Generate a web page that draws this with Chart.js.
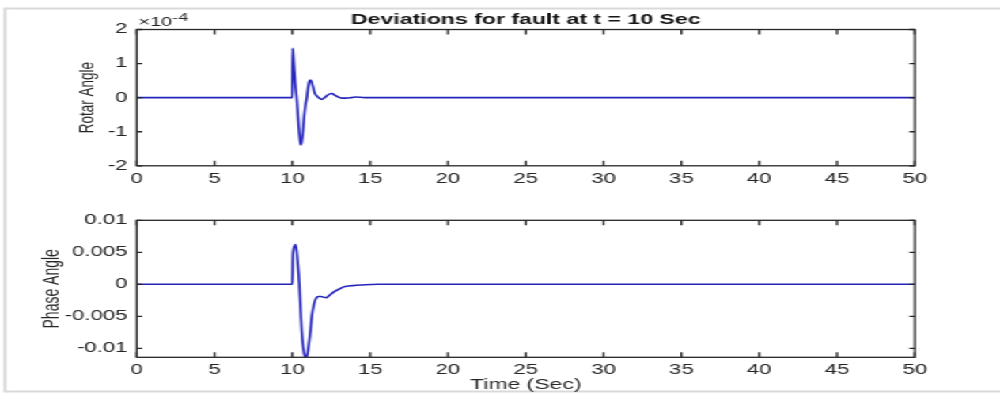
<!DOCTYPE html>
<html><head><meta charset="utf-8">
<script src="https://cdn.jsdelivr.net/npm/chart.js@4.4.0/dist/chart.umd.min.js"></script>
<style>
html,body{margin:0;padding:0;background:#fff;overflow:hidden;}
#wrap{position:absolute;left:0;top:0;width:632px;height:395px;transform:scaleX(1.5823);transform-origin:0 0;}
#wrap canvas{position:absolute;left:0;top:0;}
</style></head><body>
<div id="wrap"><canvas id="c1" width="632" height="395"></canvas><canvas id="c2" width="632" height="395"></canvas></div>
<script>
// ---- data ----
const chartTitle = 'Deviations for fault at t = 10 Sec';
const xTicks = [0, 5, 10, 15, 20, 25, 30, 35, 40, 45, 50];

// Rotor angle deviation, values in units of 10^-4
const rotorTime = [0, 10.0, 10.02, 10.05, 10.1, 10.2, 10.28, 10.35, 10.42, 10.48, 10.54, 10.6, 10.68, 10.75, 10.85, 10.93, 11.0, 11.07, 11.14, 11.22, 11.32, 11.45, 11.6, 11.75, 11.89, 12.05, 12.25, 12.53, 12.75, 13.0, 13.2, 13.45, 13.8, 14.1, 14.4, 14.8, 50];
const rotorAngleE4 = [0, 0, 1.45, 1.35, 1.0, 0.35, 0, -0.45, -0.9, -1.2, -1.39, -1.3, -1.0, -0.6, -0.2, 0.0, 0.25, 0.45, 0.52, 0.48, 0.33, 0.12, 0.04, -0.02, -0.05, -0.01, 0.07, 0.12, 0.07, 0.01, -0.015, -0.015, 0.0, 0.02, 0.01, 0, 0];
const rotorTicks = [-2, -1, 0, 1, 2];

// Phase angle deviation
const phaseTime = [0, 10.0, 10.03, 10.08, 10.14, 10.22, 10.34, 10.45, 10.53, 10.6, 10.7, 10.8, 10.88, 10.96, 11.05, 11.15, 11.25, 11.4, 11.55, 11.67, 11.85, 12.0, 12.17, 12.35, 12.6, 12.96, 13.3, 13.9, 14.5, 15.5, 50];
const phaseAngle = [0, 0, 0.004, 0.0055, 0.006, 0.0062, 0.0036, 0, -0.004, -0.0073, -0.0099, -0.0112, -0.0114, -0.011, -0.0095, -0.0075, -0.005, -0.003, -0.0021, -0.0019, -0.0019, -0.002, -0.0021, -0.0018, -0.0013, -0.0008, -0.0004, -0.0002, -0.0001, 0, 0];
const phaseTicks = [-0.01, -0.005, 0, 0.005, 0.01];

const FONT = '"Liberation Sans", Arial, Helvetica, sans-serif';
Chart.defaults.font.family = FONT;
const TXT = '#262626';
const LINE = '#2424bc';

function boxPlugin(xt, yt, extra) {
  return {
    id: 'box',
    afterDraw(chart) {
      const ctx = chart.ctx;
      const a = chart.chartArea;
      ctx.save();
      ctx.strokeStyle = '#262626';
      ctx.lineWidth = 1.3;
      ctx.strokeRect(a.left, a.top, a.right - a.left, a.bottom - a.top);
      ctx.beginPath();
      for (const v of xt) {
        const px = chart.scales.x.getPixelForValue(v);
        ctx.moveTo(px, a.bottom); ctx.lineTo(px, a.bottom - 5);
        ctx.moveTo(px, a.top); ctx.lineTo(px, a.top + 5);
      }
      for (const v of yt) {
        const py = chart.scales.y.getPixelForValue(v);
        ctx.moveTo(a.left, py); ctx.lineTo(a.left + 3.5, py);
        ctx.moveTo(a.right, py); ctx.lineTo(a.right - 3.5, py);
      }
      ctx.stroke();
      ctx.restore();
      if (extra) extra(chart);
    }
  };
}

function makeChart(id, cfg) {
  return new Chart(document.getElementById(id), {
    type: 'line',
    data: {
      datasets: [{
        data: cfg.t.map((t, i) => ({x: t, y: cfg.v[i]})),
        borderColor: LINE,
        borderWidth: 1.6,
        pointRadius: 0,
        cubicInterpolationMode: 'monotone',
        fill: false
      }]
    },
    options: {
      responsive: false,
      animation: false,
      devicePixelRatio: 1,
      layout: {padding: cfg.padding},
      plugins: {
        legend: {display: false},
        tooltip: {enabled: false},
        title: cfg.title ? {
          display: true, text: cfg.title, fullSize: false, color: '#151515',
          font: {size: 14.6, weight: 'bold', family: FONT},
          padding: {top: 11.2, bottom: 0.8}
        } : {display: false}
      },
      scales: {
        x: {
          type: 'linear', min: 0, max: 50,
          grid: {display: false, drawTicks: false},
          border: {display: false},
          afterBuildTicks: s => { s.ticks = xTicks.map(v => ({value: v})); },
          afterFit: s => { s.height = cfg.xh; },
          ticks: {color: TXT, padding: 4.8, font: {size: 14}, maxRotation: 0, autoSkip: false, callback: v => String(v)},
          title: cfg.xTitle ? {display: true, text: cfg.xTitle, color: TXT, font: {size: 14.5}, padding: {top: 0, bottom: 1.6}} : {display: false}
        },
        y: {
          type: 'linear', min: cfg.ymin, max: cfg.ymax,
          grid: {display: false, drawTicks: false},
          border: {display: false},
          afterBuildTicks: s => { s.ticks = cfg.yt.map(v => ({value: v})); },
          afterFit: s => { s.width = 86.4; },
          ticks: {color: TXT, padding: 5.8, font: {size: 14}, autoSkip: false, callback: v => String(v)},
          title: {display: true, text: cfg.yTitle, color: TXT, font: {size: cfg.yTitleSize}, padding: {top: cfg.yTitlePad, bottom: 0}}
        }
      }
    },
    plugins: [boxPlugin(xTicks, cfg.yt, cfg.extra)]
  });
}

makeChart('c1', {
  t: rotorTime, v: rotorAngleE4, yt: rotorTicks, ymin: -2, ymax: 2,
  title: chartTitle, yTitle: 'Rotar Angle', yTitleSize: 13.5, yTitlePad: 47,
  padding: {left: 0, top: 0, right: 53.8, bottom: 199.2}, xh: 30,
  extra: chart => {
    const ctx = chart.ctx;
    ctx.save();
    // outer light frame
    ctx.strokeStyle = '#d9d9d9';
    ctx.lineWidth = 2;
    ctx.beginPath();
    ctx.moveTo(640, 8.5); ctx.lineTo(3.2, 8.5); ctx.lineTo(3.2, 391.5); ctx.lineTo(640, 391.5);
    ctx.stroke();
    // exponent label
    const a = chart.chartArea;
    ctx.fillStyle = TXT;
    ctx.textBaseline = 'alphabetic';
    ctx.textAlign = 'left';
    ctx.font = '12.5px ' + FONT;
    ctx.fillText('\u00d710', a.left + 1.2, 26);
    const w = ctx.measureText('\u00d710').width;
    ctx.font = '11px ' + FONT;
    ctx.fillText('-4', a.left + 1.2 + w + 0.3, 20.5);
    ctx.restore();
  }
});

makeChart('c2', {
  t: phaseTime, v: phaseAngle, yt: phaseTicks, ymin: -0.0114, ymax: 0.01,
  yTitle: 'Phase Angle', yTitleSize: 14, yTitlePad: 24.5, xTitle: 'Time (Sec)',
  padding: {left: 0, top: 220.3, right: 53.8, bottom: 0}, xh: 37.7
});
</script>
</body></html>
